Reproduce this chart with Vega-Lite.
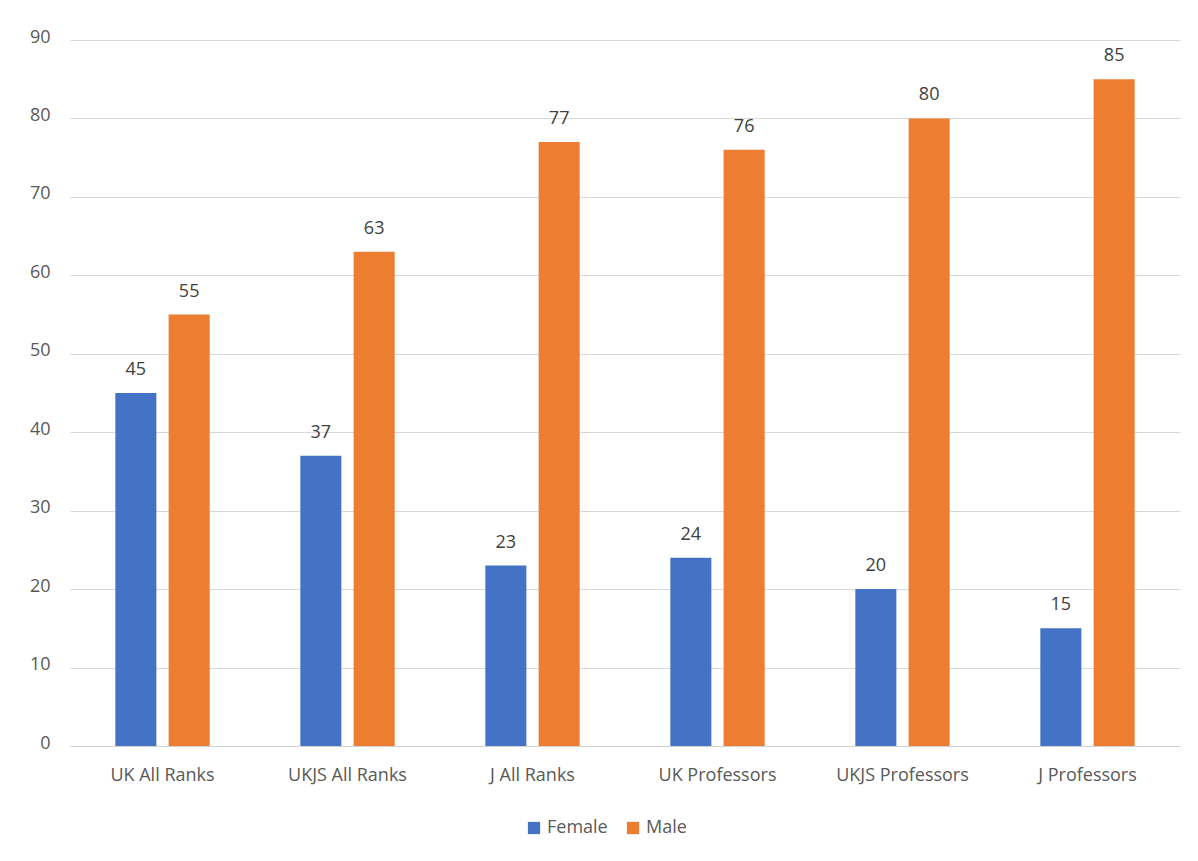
{
  "$schema": "https://vega.github.io/schema/vega-lite/v6.json",
  "width": 1110,
  "height": 706,
  "autosize": {"type": "none"},
  "padding": {"left": 70, "top": 40, "right": 18, "bottom": 115},
  "background": "white",
  "data": {"values": [
    {"cat": "UK All Ranks", "gender": "Female", "value": 45},
    {"cat": "UK All Ranks", "gender": "Male", "value": 55},
    {"cat": "UKJS All Ranks", "gender": "Female", "value": 37},
    {"cat": "UKJS All Ranks", "gender": "Male", "value": 63},
    {"cat": "J All Ranks", "gender": "Female", "value": 23},
    {"cat": "J All Ranks", "gender": "Male", "value": 77},
    {"cat": "UK Professors", "gender": "Female", "value": 24},
    {"cat": "UK Professors", "gender": "Male", "value": 76},
    {"cat": "UKJS Professors", "gender": "Female", "value": 20},
    {"cat": "UKJS Professors", "gender": "Male", "value": 80},
    {"cat": "J Professors", "gender": "Female", "value": 15},
    {"cat": "J Professors", "gender": "Male", "value": 85}
  ]},
  "encoding": {
    "x": {"field": "cat", "type": "nominal", "sort": null,
      "scale": {"paddingInner": 0.49, "paddingOuter": 0.245},
      "axis": {"title": null, "labelAngle": 0, "labelFont": "Open Sans", "labelFontSize": 18, "labelColor": "#595959",
        "labelPadding": 20, "ticks": false, "domainColor": "#d0d0d0", "domainWidth": 1, "grid": false}},
    "xOffset": {"field": "gender", "type": "nominal", "scale": {"paddingInner": 0.23, "paddingOuter": 0}},
    "y": {"field": "value", "type": "quantitative",
      "scale": {"domain": [0, 90]},
      "axis": {"title": null, "values": [0,10,20,30,40,50,60,70,80,90], "labelFont": "Open Sans", "labelFontSize": 18,
        "labelColor": "#595959", "labelPadding": 20, "labelOffset": -3, "ticks": false, "domain": false, "gridColor": "#d9d9d9", "gridWidth": 1}},
    "color": {"field": "gender", "type": "nominal",
      "scale": {"domain": ["Female", "Male"], "range": ["#4472C4", "#ED7D31"]},
      "legend": {"title": null, "orient": "none", "legendX": 455, "legendY": 779, "direction": "horizontal", "symbolType": "square", "symbolSize": 150,
        "labelFont": "Open Sans", "labelFontSize": 18, "labelColor": "#595959", "labelOffset": 4, "columnPadding": 16, "symbolStrokeWidth": 0, "padding": 0}}
  },
  "layer": [
    {"mark": {"type": "bar"}},
    {"mark": {"type": "text", "dy": -18, "font": "Open Sans", "fontSize": 18, "baseline": "alphabetic"},
      "encoding": {"text": {"field": "value", "type": "quantitative"}, "color": {"value": "#404040"}}}
  ],
  "config": {"view": {"stroke": null}}
}
